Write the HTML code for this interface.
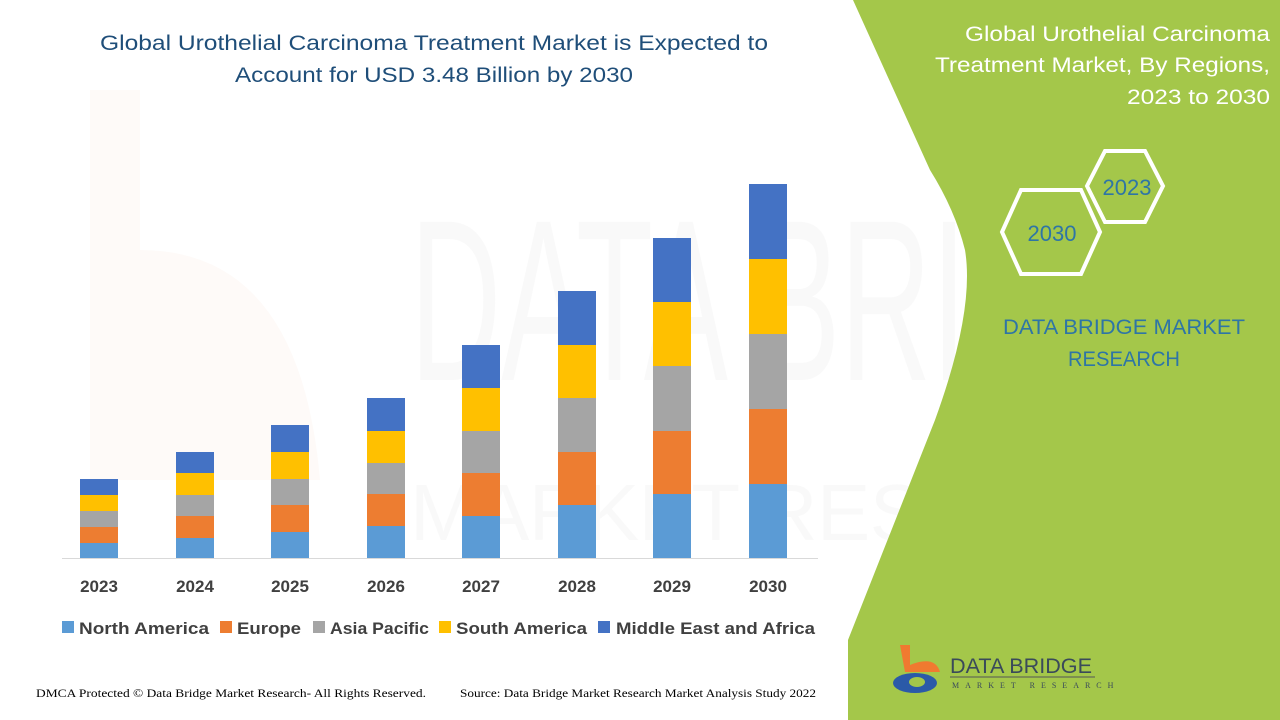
<!DOCTYPE html>
<html><head><meta charset="utf-8"><style>
html,body{margin:0;padding:0;width:1280px;height:720px;overflow:hidden;background:#fff;font-family:"Liberation Sans",sans-serif;}
</style></head><body>
<svg width="1280" height="720" viewBox="0 0 1280 720" xmlns="http://www.w3.org/2000/svg" style="position:absolute;left:0;top:0">
<rect width="1280" height="720" fill="#fff"/>
<g opacity="0.045" fill="#888" font-family="Liberation Sans, sans-serif">
<text x="410" y="380" font-size="230" textLength="830" lengthAdjust="spacingAndGlyphs">DATA BRIDGE</text>
<text x="410" y="540" font-size="80" textLength="830" lengthAdjust="spacing" letter-spacing="40">MARKET RESEARCH</text>
</g>
<path d="M90 90 L140 90 L140 250 Q300 250 320 480 L90 480 Z" fill="#f08a4a" opacity="0.04"/>
<path d="M853 0 L1280 0 L1280 720 L848 720 L848 640 L935 420 Q975 310 965 250 Q955 210 930 170 Z" fill="#a4c74a"/>
<g font-family="Liberation Sans, sans-serif" fill="#1f4e79" font-size="21" text-anchor="middle">
<text x="434" y="50" textLength="668" lengthAdjust="spacingAndGlyphs">Global Urothelial Carcinoma Treatment Market is Expected to</text>
<text x="434" y="82" textLength="398" lengthAdjust="spacingAndGlyphs">Account for USD 3.48 Billion by 2030</text>
</g>
<g font-family="Liberation Sans, sans-serif" fill="#fff" font-size="21" text-anchor="end">
<text x="1270" y="41" textLength="305" lengthAdjust="spacingAndGlyphs">Global Urothelial Carcinoma</text>
<text x="1270" y="72" textLength="335" lengthAdjust="spacingAndGlyphs">Treatment Market, By Regions,</text>
<text x="1270" y="104" textLength="143" lengthAdjust="spacingAndGlyphs">2023 to 2030</text>
</g>
<polygon points="1105,151 1145,151 1163,186 1145,222 1105,222 1087,186" fill="none" stroke="#fff" stroke-width="4"/>
<polygon points="1021,190 1081,190 1100,232 1081,274 1021,274 1002,232" fill="none" stroke="#fff" stroke-width="4"/>
<text x="1127" y="195" font-size="22" fill="#2e75a6" text-anchor="middle" font-family="Liberation Sans, sans-serif">2023</text>
<text x="1052" y="241" font-size="22" fill="#2e75a6" text-anchor="middle" font-family="Liberation Sans, sans-serif">2030</text>
<text x="1124" y="334" font-size="21" fill="#2e75a6" text-anchor="middle" font-family="Liberation Sans, sans-serif" textLength="242" lengthAdjust="spacingAndGlyphs">DATA BRIDGE MARKET</text>
<text x="1124" y="366" font-size="21" fill="#2e75a6" text-anchor="middle" font-family="Liberation Sans, sans-serif" textLength="112" lengthAdjust="spacingAndGlyphs">RESEARCH</text>
<path d="M900 645 L910 645 L910 665 Q935 655 940 672 L905 672 Z" fill="#f07a30"/>
<ellipse cx="915" cy="683" rx="22" ry="10" fill="#2b5aa8"/>
<ellipse cx="917" cy="682" rx="8" ry="5" fill="#a4c74a"/>
<text x="950" y="673" font-size="21" fill="#3a4a5a" font-family="Liberation Sans, sans-serif" textLength="142" lengthAdjust="spacingAndGlyphs">DATA BRIDGE</text>
<line x1="950" y1="677" x2="1095" y2="677" stroke="#555" stroke-width="1"/>
<text x="952" y="688" font-size="8" fill="#3a4a5a" letter-spacing="6" font-family="Liberation Serif, serif">MARKET RESEARCH</text>
<line x1="62" y1="558.5" x2="818" y2="558.5" stroke="#d9d9d9" stroke-width="1"/>
<g>
<rect x="80" y="543" width="38" height="15" fill="#5b9bd5"/><rect x="80" y="527" width="38" height="16" fill="#ed7d31"/><rect x="80" y="511" width="38" height="16" fill="#a5a5a5"/><rect x="80" y="495" width="38" height="16" fill="#ffc000"/><rect x="80" y="479" width="38" height="16" fill="#4472c4"/>
<rect x="176" y="538" width="38" height="20" fill="#5b9bd5"/><rect x="176" y="516" width="38" height="22" fill="#ed7d31"/><rect x="176" y="495" width="38" height="21" fill="#a5a5a5"/><rect x="176" y="473" width="38" height="22" fill="#ffc000"/><rect x="176" y="452" width="38" height="21" fill="#4472c4"/>
<rect x="271" y="532" width="38" height="26" fill="#5b9bd5"/><rect x="271" y="505" width="38" height="27" fill="#ed7d31"/><rect x="271" y="479" width="38" height="26" fill="#a5a5a5"/><rect x="271" y="452" width="38" height="27" fill="#ffc000"/><rect x="271" y="425" width="38" height="27" fill="#4472c4"/>
<rect x="367" y="526" width="38" height="32" fill="#5b9bd5"/><rect x="367" y="494" width="38" height="32" fill="#ed7d31"/><rect x="367" y="463" width="38" height="31" fill="#a5a5a5"/><rect x="367" y="431" width="38" height="32" fill="#ffc000"/><rect x="367" y="398" width="38" height="33" fill="#4472c4"/>
<rect x="462" y="516" width="38" height="42" fill="#5b9bd5"/><rect x="462" y="473" width="38" height="43" fill="#ed7d31"/><rect x="462" y="431" width="38" height="42" fill="#a5a5a5"/><rect x="462" y="388" width="38" height="43" fill="#ffc000"/><rect x="462" y="345" width="38" height="43" fill="#4472c4"/>
<rect x="558" y="505" width="38" height="53" fill="#5b9bd5"/><rect x="558" y="452" width="38" height="53" fill="#ed7d31"/><rect x="558" y="398" width="38" height="54" fill="#a5a5a5"/><rect x="558" y="345" width="38" height="53" fill="#ffc000"/><rect x="558" y="291" width="38" height="54" fill="#4472c4"/>
<rect x="653" y="494" width="38" height="64" fill="#5b9bd5"/><rect x="653" y="431" width="38" height="63" fill="#ed7d31"/><rect x="653" y="366" width="38" height="65" fill="#a5a5a5"/><rect x="653" y="302" width="38" height="64" fill="#ffc000"/><rect x="653" y="238" width="38" height="64" fill="#4472c4"/>
<rect x="749" y="484" width="38" height="74" fill="#5b9bd5"/><rect x="749" y="409" width="38" height="75" fill="#ed7d31"/><rect x="749" y="334" width="38" height="75" fill="#a5a5a5"/><rect x="749" y="259" width="38" height="75" fill="#ffc000"/><rect x="749" y="184" width="38" height="75" fill="#4472c4"/>
</g>
<g font-family="Liberation Sans, sans-serif" font-size="17" font-weight="bold" fill="#404040" text-anchor="middle">
<text x="99" y="592">2023</text><text x="195" y="592">2024</text><text x="290" y="592">2025</text><text x="386" y="592">2026</text><text x="481" y="592">2027</text><text x="577" y="592">2028</text><text x="672" y="592">2029</text><text x="768" y="592">2030</text>
</g>
<g font-family="Liberation Sans, sans-serif" font-size="17" font-weight="bold" fill="#404040">
<rect x="62" y="621" width="12" height="12" fill="#5b9bd5"/><text x="79" y="634" textLength="130" lengthAdjust="spacingAndGlyphs">North America</text>
<rect x="220" y="621" width="12" height="12" fill="#ed7d31"/><text x="237" y="634" textLength="64" lengthAdjust="spacingAndGlyphs">Europe</text>
<rect x="313" y="621" width="12" height="12" fill="#a5a5a5"/><text x="330" y="634" textLength="99" lengthAdjust="spacingAndGlyphs">Asia Pacific</text>
<rect x="439" y="621" width="12" height="12" fill="#ffc000"/><text x="456" y="634" textLength="131" lengthAdjust="spacingAndGlyphs">South America</text>
<rect x="598" y="621" width="12" height="12" fill="#4472c4"/><text x="616" y="634" textLength="199" lengthAdjust="spacingAndGlyphs">Middle East and Africa</text>
</g>
<g font-family="Liberation Serif, serif" font-size="12" fill="#000">
<text x="36" y="697" textLength="390" lengthAdjust="spacingAndGlyphs">DMCA Protected © Data Bridge Market Research- All Rights Reserved.</text>
<text x="460" y="697" textLength="356" lengthAdjust="spacingAndGlyphs">Source: Data Bridge Market Research Market Analysis Study 2022</text>
</g>
</svg>
</body></html>
